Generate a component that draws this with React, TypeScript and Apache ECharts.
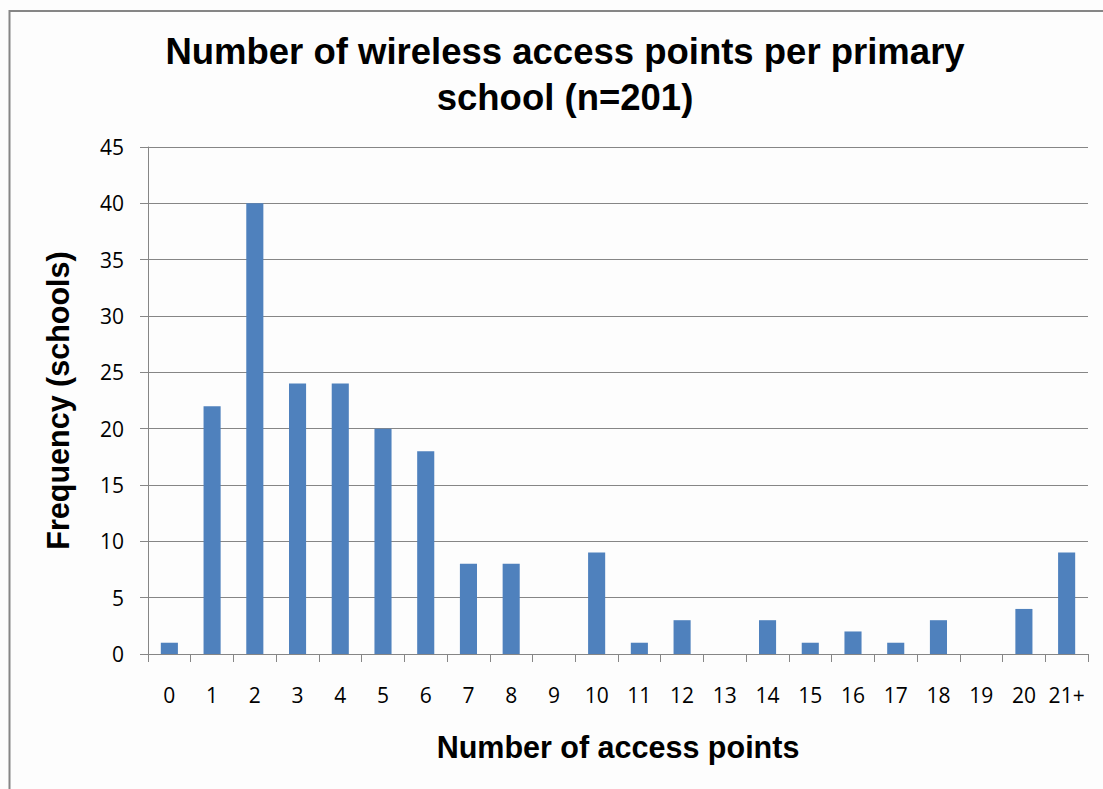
import React, { useEffect, useRef } from "react";
import * as echarts from "echarts";

const categories = ["0", "1", "2", "3", "4", "5", "6", "7", "8", "9", "10", "11", "12", "13", "14", "15", "16", "17", "18", "19", "20", "21+"];
const frequencies = [1, 22, 40, 24, 24, 20, 18, 8, 8, 0, 9, 1, 3, 0, 3, 1, 2, 1, 3, 0, 4, 9];
const chartTitle = "Number of wireless access points per primary\nschool (n=201)";
const xAxisTitle = "Number of access points";
const yAxisTitle = "Frequency (schools)";

export default function App() {
  const ref = useRef<HTMLDivElement>(null);
  useEffect(() => {
    if (!ref.current) return;
    const chart = echarts.init(ref.current, null, { renderer: "svg" });
    const gray = "#868686";
    chart.setOption({
      animation: false,
      backgroundColor: "#fdfdfd",
      title: {
        text: chartTitle,
        left: 560,
        top: 23,
        textAlign: "center",
        textStyle: {
          fontFamily: "Liberation Sans, Arial, sans-serif",
          fontWeight: "bold",
          fontSize: 36.5,
          lineHeight: 46,
          color: "#000",
        },
      },
      graphic: [
        {
          type: "rect",
          shape: { x: 9.5, y: 11, width: 1200, height: 900 },
          style: { fill: "none", stroke: gray, lineWidth: 2 },
          silent: true,
        },
      ],
      grid: { left: 148, right: 15, top: 147, bottom: 135, containLabel: false },
      xAxis: {
        type: "category",
        data: categories,
        boundaryGap: true,
        name: xAxisTitle,
        nameLocation: "middle",
        nameGap: 77,
        nameTextStyle: {
          fontFamily: "Liberation Sans, Arial, sans-serif",
          fontWeight: "bold",
          fontSize: 30.5,
          color: "#000",
        },
        axisLine: { lineStyle: { color: gray, width: 1 } },
        axisTick: { show: true, length: 8, alignWithLabel: false, lineStyle: { color: gray } },
        axisLabel: {
          interval: 0,
          margin: 30,
          fontFamily: "Open Sans, sans-serif",
          fontSize: 21,
          color: "#000",
        },
      },
      yAxis: {
        type: "value",
        min: 0,
        max: 45,
        interval: 5,
        name: yAxisTitle,
        nameLocation: "middle",
        nameGap: 75,
        nameTextStyle: {
          fontFamily: "Liberation Sans, Arial, sans-serif",
          fontWeight: "bold",
          fontSize: 30.5,
          color: "#000",
        },
        axisLine: { show: true, lineStyle: { color: gray, width: 1 } },
        axisTick: { show: true, length: 8, lineStyle: { color: gray } },
        splitLine: { show: true, lineStyle: { color: gray, width: 1 } },
        axisLabel: {
          margin: 24,
          fontFamily: "Open Sans, sans-serif",
          fontSize: 21,
          color: "#000",
        },
      },
      series: [
        {
          type: "bar",
          data: frequencies,
          barWidth: "40%",
          itemStyle: { color: "#4f81bd" },
        },
      ],
    });
    return () => chart.dispose();
  }, []);
  return (
    <div
      ref={ref}
      style={{ position: "fixed", left: 0, top: 0, width: 1103, height: 789 }}
    />
  );
}
